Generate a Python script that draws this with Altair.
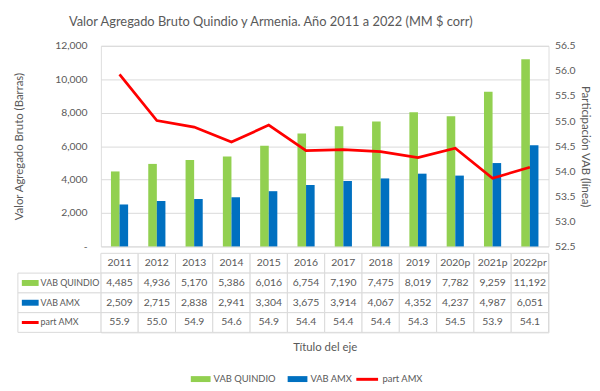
import altair as alt
import pandas as pd

years = ["2011", "2012", "2013", "2014", "2015", "2016", "2017", "2018", "2019", "2020p", "2021p", "2022pr"]
vab_quindio = [4485, 4936, 5170, 5386, 6016, 6754, 7190, 7475, 8019, 7782, 9259, 11192]
vab_amx = [2509, 2715, 2838, 2941, 3304, 3675, 3914, 4067, 4352, 4237, 4987, 6051]
part_amx = [55.93, 55.01, 54.88, 54.58, 54.92, 54.41, 54.43, 54.39, 54.27, 54.46, 53.86, 54.08]
series = ["VAB QUINDIO", "VAB AMX", "part AMX"]
colors = ["#92D050", "#0070C0", "#FF0000"]
left_ticks = [0, 2000, 4000, 6000, 8000, 10000, 12000]
right_ticks = [52.5, 53.0, 53.5, 54.0, 54.5, 55.0, 55.5, 56.0, 56.5]
rows = ["hdr", "VAB QUINDIO", "VAB AMX", "part AMX"]

FONT = "Lato, Roboto, sans-serif"
GRAY = "#595959"
GRID = "#D9D9D9"

bars_df = pd.DataFrame({
    "year": years * 2,
    "series": ["VAB QUINDIO"] * len(years) + ["VAB AMX"] * len(years),
    "value": vab_quindio + vab_amx,
})
line_df = pd.DataFrame({"year": years, "series": "part AMX", "part": part_amx})

recs = []
for yr, q, a, p in zip(years, vab_quindio, vab_amx, part_amx):
    recs.append({"row": "hdr", "year": yr, "text": yr})
    recs.append({"row": "VAB QUINDIO", "year": yr, "text": f"{q:,}"})
    recs.append({"row": "VAB AMX", "year": yr, "text": f"{a:,}"})
    recs.append({"row": "part AMX", "year": yr, "text": f"{p:.1f}"})
tab_df = pd.DataFrame(recs)
label_df = pd.DataFrame({"row": series, "col": colors, "sw": [6, 6, 3]})

bar_legend = alt.Legend(
    title=None, orient="none", direction="horizontal", legendX=91, legendY=327,
    symbolType="M-1,-0.3H1V0.3H-1Z", symbolSize=400, symbolStrokeWidth=0,
    labelFont=FONT, labelFontSize=9.5, labelColor=GRAY, labelOffset=3, columnPadding=12,
)
line_legend = alt.Legend(
    title=None, orient="none", direction="horizontal", legendX=257, legendY=325,
    symbolType="stroke", symbolSize=484, symbolStrokeWidth=3,
    labelFont=FONT, labelFontSize=9.5, labelColor=GRAY, labelOffset=3,
)

x_top = alt.X("year:N", sort=years,
              scale=alt.Scale(domain=years, paddingInner=0.54, paddingOuter=0.27), axis=None)

bars = alt.Chart(bars_df).mark_bar().encode(
    x=x_top,
    xOffset=alt.XOffset("series:N", sort=series[:2],
                        scale=alt.Scale(domain=series[:2], paddingInner=0, paddingOuter=0)),
    y=alt.Y("value:Q", scale=alt.Scale(domain=[0, 12000]),
            axis=alt.Axis(values=left_ticks,
                          labelExpr="datum.value == 0 ? '-' : format(datum.value, ',')",
                          grid=True, gridColor=GRID, domain=False, ticks=False,
                          labelFontSize=10.5, labelColor=GRAY, labelPadding=14,
                          title="Valor Agregado Bruto (Barras)", titleFontSize=11.5, titleColor=GRAY,
                          titleFontWeight="normal", titlePadding=30)),
    fill=alt.Fill("series:N", scale=alt.Scale(domain=series[:2], range=colors[:2]), legend=bar_legend),
)

line = alt.Chart(line_df).mark_line(strokeWidth=2.75).encode(
    x=x_top,
    y=alt.Y("part:Q", scale=alt.Scale(domain=[52.5, 56.5], zero=False),
            axis=alt.Axis(orient="right", values=right_ticks, format=".1f", grid=False,
                          domain=False, ticks=False, labelFontSize=10.5, labelColor=GRAY, labelPadding=6,
                          title="Participación VAB (línea)", titleFontSize=11.5, titleColor=GRAY,
                          titleFontWeight="normal", titlePadding=5)),
    stroke=alt.Stroke("series:N", scale=alt.Scale(domain=series[2:], range=colors[2:]), legend=line_legend),
)

top = alt.layer(bars, line).resolve_scale(y="independent").properties(width=453, height=203)

y_tab = alt.Y("row:N", sort=rows, scale=alt.Scale(domain=rows, paddingInner=0, paddingOuter=0), axis=None)
x_tab = alt.X("year:N", sort=years, scale=alt.Scale(domain=years, paddingInner=0, paddingOuter=0),
              axis=alt.Axis(title="Título del eje", labels=False, ticks=False, domain=False, grid=False,
                            titleFontSize=11.5, titleColor=GRAY, titleFontWeight="normal", titlePadding=9))

cells = alt.Chart(tab_df).mark_rect(fill="white", stroke=GRID, strokeWidth=1).encode(x=x_tab, y=y_tab)
texts = alt.Chart(tab_df).mark_text(font=FONT, fontSize=10.5, color=GRAY).encode(x=x_tab, y=y_tab, text="text:N")
lab_cells = alt.Chart(label_df).mark_rect(fill="white", stroke=GRID, strokeWidth=1).encode(
    x=alt.value(-84), x2=alt.value(0), y=y_tab)
lab_text = alt.Chart(label_df).mark_text(align="left", font=FONT, fontSize=9, color=GRAY).encode(
    x=alt.value(-61), y=y_tab, text="row:N")
swatch = alt.Chart(label_df).mark_rule().encode(
    x=alt.value(-80), x2=alt.value(-63),
    y=alt.Y("row:N", sort=rows, scale=alt.Scale(domain=rows, paddingInner=0, paddingOuter=0),
            axis=None, bandPosition=0.5),
    color=alt.Color("col:N", scale=None),
    strokeWidth=alt.StrokeWidth("sw:Q", scale=None, legend=None),
)

bottom = alt.layer(cells, texts, lab_cells, lab_text, swatch).properties(width=453, height=80)

chart = alt.vconcat(top, bottom, spacing=0).resolve_scale(
    x="independent", y="independent"
).properties(
    title=alt.TitleParams(
        text="Valor Agregado Bruto Quindio y Armenia. Año 2011 a 2022 (MM $ corr)",
        font=FONT, fontSize=13, fontWeight="normal", color=GRAY, anchor="start", dx=56, offset=12,
    ),
    padding={"left": 5, "top": 5, "right": 0, "bottom": 0},
).configure_view(stroke=None).configure(font=FONT)

chart.save("out.html", embed_options={"renderer": "svg", "actions": False})
